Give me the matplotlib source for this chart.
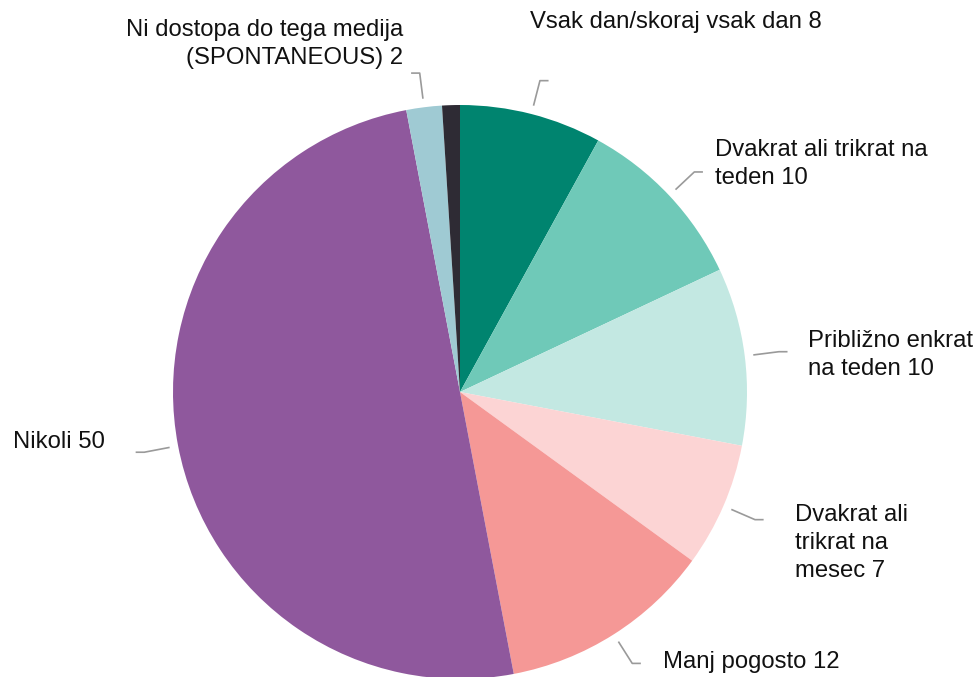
import matplotlib
matplotlib.use('Agg')
import matplotlib.pyplot as plt
import numpy as np

# data (clockwise from top)
labels = ["Vsak dan/skoraj vsak dan 8",
          "Dvakrat ali trikrat na\nteden 10",
          "Približno enkrat\nna teden 10",
          "Dvakrat ali\ntrikrat na\nmesec 7",
          "Manj pogosto 12",
          "Nikoli 50",
          "Ni dostopa do tega medija\n(SPONTANEOUS) 2",
          ""]
values = [8, 10, 10, 7, 12, 50, 2, 1]
colors = ["#00846f", "#6fc9b8", "#c3e8e2", "#fcd4d4", "#f59896",
          "#8f589d", "#9fcad3", "#2e2b34"]

# label text positions (pixel coords in the 979x677 picture) and alignment
text_px = [(530, 22, 'left'), (715, 164, 'left'), (808, 355, 'left'),
           (795, 543, 'left'), (663, 662, 'left'), (13, 442, 'left'),
           (403, 44, 'right')]

CX, CY, R = 460, 392, 287
W, H = 979, 677

def px(x, y):
    return (x - CX) / R, (CY - y) / R

plt.rcParams['font.family'] = ['Liberation Sans', 'DejaVu Sans']

fig = plt.figure(figsize=(W / 100, H / 100), dpi=100)
ax = fig.add_axes([0, 0, 1, 1])

wedges, _ = ax.pie(values, colors=colors, startangle=90, counterclock=False,
                   radius=1.0, wedgeprops=dict(linewidth=0))

# pie() resets the limits, so set them afterwards
ax.set_xlim(-CX / R, (W - CX) / R)
ax.set_ylim((CY - H) / R, CY / R)
ax.set_aspect('equal')
ax.axis('off')

for i, w in enumerate(wedges):
    if not labels[i]:
        continue
    mid = np.deg2rad((w.theta1 + w.theta2) / 2)
    x0, y0 = 1.03 * np.cos(mid), 1.03 * np.sin(mid)
    x1, y1 = 1.12 * np.cos(mid), 1.12 * np.sin(mid)
    d = 0.03 if x1 >= 0 else -0.03
    ax.plot([x0, x1, x1 + d], [y0, y1, y1], color="#9a9a9a", lw=1.2,
            solid_capstyle='butt')
    tx, ty, ha = text_px[i]
    x, y = px(tx, ty)
    ax.text(x, y, labels[i], ha=ha, va='center', multialignment=ha,
            fontsize=17.2, color="#111111", linespacing=1.33)

fig.savefig("out.png", dpi=100, facecolor='white')
